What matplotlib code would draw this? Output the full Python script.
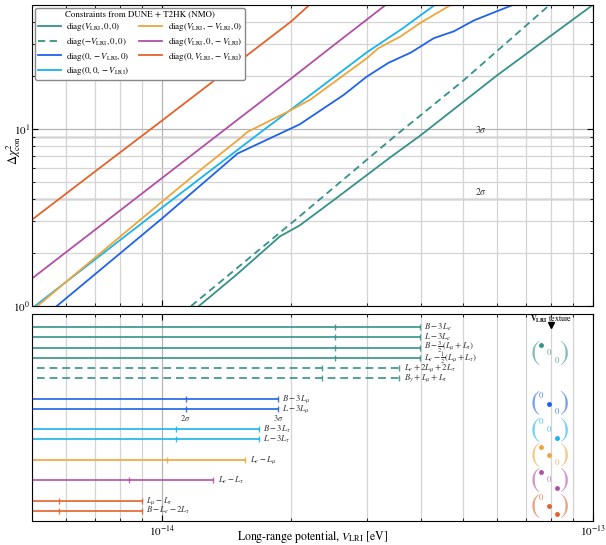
import numpy as np
import matplotlib.pyplot as plt
import matplotlib.transforms as mtransforms
from matplotlib.ticker import LogLocator, NullFormatter

plt.rcParams['font.family'] = 'STIXGeneral'
plt.rcParams['mathtext.fontset'] = 'stix'

# colours of the six textures
c_e = '#35918a'
c_mu = '#1f63e8'
c_tau = '#17b4ee'
c_emu = '#eea53a'
c_etau = '#b24fa6'
c_mutau = '#e3632b'

# Delta chi^2 versus V_LRI [eV] for each texture
v_e = [1.22e-14, 1.49e-14, 1.88e-14, 2.09e-14, 2.52e-14, 3.39e-14, 3.98e-14, 6.01e-14, 1.0e-13]
chi_e = [1.0, 1.5, 2.47, 2.85, 4.0, 6.9, 9.16, 20.1, 50.0]

v_e_neg = [1.17e-14, 2.09e-14, 3.45e-14, 5.02e-14, 7.94e-14]
chi_e_neg = [1.0, 3.21, 8.96, 18.8, 50.0]

v_mu = [5.71e-15, 1.0e-14, 1.5e-14, 2.09e-14, 2.64e-14, 2.99e-14, 3.36e-14,
        3.78e-14, 4.28e-14, 4.76e-14, 5.31e-14, 6.52e-14]
chi_mu = [1.0, 3.11, 7.26, 10.6, 15.5, 19.7, 23.6, 26.9, 32.5, 35.5, 41.0, 50.0]

v_tau = [5.08e-15, 7.0e-15, 1.0e-14, 1.4e-14, 1.7e-14, 2.21e-14, 2.99e-14, 3.6e-14, 4.3e-14]
chi_tau = [1.0, 1.83, 3.58, 6.7, 9.6, 15.5, 27.0, 36.5, 50.0]

v_emu = [5.15e-15, 6.0e-15, 1.0e-14, 1.25e-14, 1.53e-14, 1.58e-14, 1.95e-14,
         2.21e-14, 2.6e-14, 2.99e-14, 3.18e-14, 3.58e-14, 3.98e-14, 4.68e-14]
chi_emu = [1.0, 1.37, 3.87, 6.05, 8.96, 9.6, 12.4, 14.6, 19.5, 25.0, 28.5, 33.2, 39.6, 50.0]

v_etau = [5.0e-15, 7.0e-15, 1.0e-14, 1.4e-14, 2.0e-14, 2.5e-14, 3.0e-14, 3.3e-14]
chi_etau = [1.43, 2.69, 5.26, 9.9, 19.3, 29.5, 41.6, 49.8]

v_mutau = [5.0e-15, 7.0e-15, 1.0e-14, 1.4e-14, 1.7e-14, 2.0e-14, 2.2e-14]
chi_mutau = [3.07, 5.74, 11.1, 20.8, 29.9, 40.5, 50.0]

# 2 sigma / 3 sigma bounds for the individual symmetries
sym_labels = [r'$B-3L_e$', r'$L-3L_e$', r'$B-\frac{3}{2}(L_\mu+L_\tau)$',
              r'$L_e-\frac{1}{2}(L_\mu+L_\tau)$', r'$L_e+2L_\mu+2L_\tau$',
              r'$B_y+L_\mu+L_\tau$', r'$B-3L_\mu$', r'$L-3L_\mu$',
              r'$B-3L_\tau$', r'$L-3L_\tau$', r'$L_e-L_\mu$', r'$L_e-L_\tau$',
              r'$L_\mu-L_\tau$', r'$B-L_e-2L_\tau$']
sym_2sig = [2.52e-14, 2.52e-14, 2.52e-14, 2.52e-14, 2.36e-14, 2.36e-14,
            1.137e-14, 1.137e-14, 1.078e-14, 1.078e-14, 1.027e-14, 8.39e-15,
            5.78e-15, 5.78e-15]
sym_3sig = [3.97e-14, 3.97e-14, 3.97e-14, 3.97e-14, 3.56e-14, 3.56e-14,
            1.86e-14, 1.86e-14, 1.68e-14, 1.68e-14, 1.56e-14, 1.318e-14,
            8.98e-15, 8.98e-15]
sym_texture = [0, 0, 0, 0, 1, 1, 2, 2, 3, 3, 4, 5, 6, 6]

# textures: colour and line style
tex_colors = [c_e, c_e, c_mu, c_tau, c_emu, c_etau, c_mutau]
tex_dashed = [False, True, False, False, False, False, False]

# diagonal entries of the matrices on the right (1 = V_LRI, 0 = zero)
mat_entries = [(1, 0, 0), (0, 1, 0), (0, 0, 1), (1, 1, 0), (1, 0, 1), (0, 1, 1)]
mat_colors = [c_e, c_mu, c_tau, c_emu, c_etau, c_mutau]

# layout of the lower panel
row_y = [0, 1, 2, 3, 4, 5, 7, 8, 10, 11, 13, 15, 17, 18]
mat_y = [2.55, 7.5, 10.1, 12.55, 15.0, 17.55]

fig = plt.figure(figsize=(6.06, 5.45), dpi=100)
ax = fig.add_axes([0.0528, 0.4385, 0.9252, 0.5523])
ax2 = fig.add_axes([0.0528, 0.044, 0.9252, 0.3798])

V = r'V_{\rm LRI}'
dash = (0, (4, 2.5))
ax.plot(v_e, chi_e, color=c_e, lw=1.3, label=rf'diag$({V},0,0)$')
ax.plot(v_e_neg, chi_e_neg, color=c_e, lw=1.3, ls=dash, label=rf'diag$(-{V},0,0)$')
ax.plot(v_mu, chi_mu, color=c_mu, lw=1.3, label=rf'diag$(0,-{V},0)$')
ax.plot(v_tau, chi_tau, color=c_tau, lw=1.3, label=rf'diag$(0,0,-{V})$')
ax.plot(v_emu, chi_emu, color=c_emu, lw=1.3, label=rf'diag$({V},-{V},0)$')
ax.plot(v_etau, chi_etau, color=c_etau, lw=1.3, label=rf'diag$({V},0,-{V})$')
ax.plot(v_mutau, chi_mutau, color=c_mutau, lw=1.3, label=rf'diag$(0,{V},-{V})$')

for lev, txt in [(4, r'$2\sigma$'), (9, r'$3\sigma$')]:
    ax.axhline(lev, color='#3a3a3a', lw=0.9, zorder=1)
    ax.text(5.5e-14, lev * 1.03, txt, fontsize=7, color='#333333', ha='center', va='bottom')

for a in (ax, ax2):
    a.set_xscale('log')
    a.set_xlim(5e-15, 1e-13)
    a.set_xticks([1e-14, 1e-13])
    a.xaxis.set_minor_locator(LogLocator(base=10, subs=np.arange(2, 10)))
    a.xaxis.set_minor_formatter(NullFormatter())
    a.tick_params(which='both', direction='in', top=True, right=True, labelsize=8, pad=1.5)
    a.tick_params(which='major', length=4)
    a.tick_params(which='minor', length=2.5)
    a.grid(True, which='major', axis='x', color='#b5b5b5', lw=0.9, zorder=0)
    a.grid(True, which='minor', axis='x', color='#d4d4d4', lw=0.9, zorder=0)

ax.set_yscale('log')
ax.set_ylim(1, 50)
ax.set_yticks([1, 10])
ax.yaxis.set_minor_formatter(NullFormatter())
ax.grid(True, which='major', axis='y', color='#b5b5b5', lw=0.9, zorder=0)
ax.grid(True, which='minor', axis='y', color='#d4d4d4', lw=0.9, zorder=0)
ax.tick_params(axis='x', labelbottom=False)

leg = ax.legend(ncol=2, loc='upper left', fontsize=6.4, title='Constraints from DUNE + T2HK (NMO)',
                title_fontsize=6.4, handlelength=2.6, labelspacing=0.18, columnspacing=1.1,
                handletextpad=0.6, borderaxespad=0.35, borderpad=0.3, fancybox=True,
                framealpha=1, edgecolor='#888888')
leg.get_frame().set_linewidth(1.0)

fig.text(0.022, 1 - 150 / 545, r'$\Delta\chi^2_{\rm con}$', rotation=90, fontsize=9,
         ha='center', va='center')

# lower panel: one bar per symmetry, ending at the 3 sigma bound
for y, lab, s2, s3, t in zip(row_y, sym_labels, sym_2sig, sym_3sig, sym_texture):
    col = tex_colors[t]
    ax2.plot([4e-15, s3], [y, y], color=col, lw=1.4, alpha=0.85,
             ls=dash if tex_dashed[t] else '-')
    ax2.plot([s2, s3], [y, y], ls='none', marker='|', ms=5, mew=1.0, color=col, alpha=0.85)
    ax2.text(s3 * 1.025, y, lab, fontsize=6.3, color='#333333', va='center', ha='left')

ax2.text(sym_2sig[7], row_y[7] + 0.85, r'$2\sigma$', fontsize=6, color='#333333', ha='center', va='center')
ax2.text(sym_3sig[7], row_y[7] + 0.85, r'$3\sigma$', fontsize=6, color='#333333', ha='center', va='center')

ax2.set_ylim(19.0, -1.3)
ax2.set_yticks([])
ax2.set_xlabel(r'Long-range potential, $V_{\rm LRI}$ [eV]', fontsize=8.5, labelpad=-6)

# texture matrices on the right
trans = mtransforms.blended_transform_factory(ax2.transAxes, ax2.transData)
col_x = [0.908, 0.922, 0.936]
for yc, ent, col in zip(mat_y, mat_entries, mat_colors):
    ax2.text(0.897, yc, '(', transform=trans, fontsize=20, color=col, alpha=0.6,
             ha='center', va='center')
    ax2.text(0.948, yc, ')', transform=trans, fontsize=20, color=col, alpha=0.6,
             ha='center', va='center')
    for k, e in enumerate(ent):
        yy = yc + (k - 1) * 0.8
        if e:
            ax2.plot(col_x[k], yy, 'o', ms=2.5, color=col, transform=trans)
        else:
            ax2.text(col_x[k], yy, '0', fontsize=6.2, color=col, alpha=0.8, transform=trans,
                     ha='center', va='center')

ax2.text(8e-14, -0.8, r'$\mathbf{V}_{\mathbf{LRI}}$ texture', fontsize=5.8, ha='center', va='center')
ax2.plot(8e-14, -0.25, 'v', ms=4, color='black')

fig.savefig('out.png', dpi=100)
